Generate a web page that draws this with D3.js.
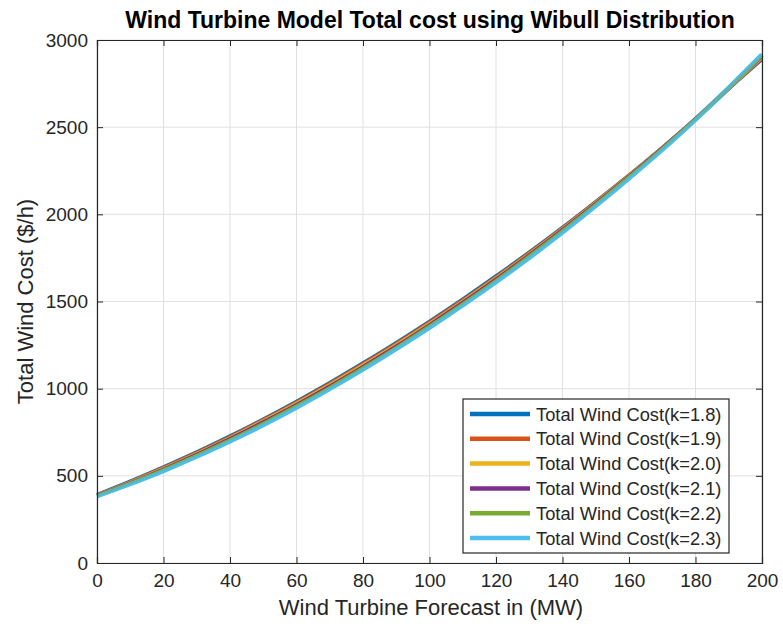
<!DOCTYPE html>
<html>
<head>
<meta charset="utf-8">
<script src="https://cdn.jsdelivr.net/npm/d3@7"></script>
<style>
  html, body { margin: 0; padding: 0; background: #fff; }
  svg { display: block; font-family: "Liberation Sans", Arial, Helvetica, sans-serif; }
</style>
</head>
<body>
<svg id="chart" width="783" height="634"></svg>
<script>
// ---- data ----
const forecastMW = [0,10,20,30,40,50,60,70,80,90,100,110,120,130,140,150,160,170,180,190,200];
const costK18 = [395,472,554,640,732,829,931,1038,1151,1268,1390,1517,1650,1787,1929,2077,2229,2387,2550,2717,2885];
const costK19 = [393,469,550,636,727,824,925,1032,1145,1262,1384,1511,1644,1782,1925,2074,2227,2386,2550,2718,2892];
const costK20 = [391,466,546,631,721,818,919,1025,1138,1255,1377,1505,1638,1776,1920,2070,2225,2385,2551,2721,2898];
const costK21 = [390,463,542,626,716,812,912,1018,1130,1247,1370,1498,1632,1771,1916,2066,2222,2384,2552,2724,2903];
const costK22 = [388,460,537,620,709,804,904,1010,1122,1239,1362,1490,1624,1764,1909,2060,2217,2380,2549,2724,2908];
const costK23 = [385,455,530,612,700,793,893,1000,1112,1230,1352,1480,1613,1752,1898,2050,2208,2372,2545,2725,2915];
const seriesNames = ["Total Wind Cost(k=1.8)","Total Wind Cost(k=1.9)","Total Wind Cost(k=2.0)",
                     "Total Wind Cost(k=2.1)","Total Wind Cost(k=2.2)","Total Wind Cost(k=2.3)"];
const seriesValues = [costK18, costK19, costK20, costK21, costK22, costK23];
const xTicks = [0,20,40,60,80,100,120,140,160,180,200];
const yTicks = [0,500,1000,1500,2000,2500,3000];
const titleText = "Wind Turbine Model Total cost using Wibull Distribution";
const xLabelText = "Wind Turbine Forecast in (MW)";
const yLabelText = "Total Wind Cost ($/h)";

// ---- styles ----
const colors = ["#0072BD","#D95319","#EDB120","#7E2F8E","#77AC30","#4DBEEE"];
const svg = d3.select("#chart");
const L = 97, R = 762, T = 40, B = 563;
const x = d3.scaleLinear().domain([0,200]).range([L,R]);
const y = d3.scaleLinear().domain([0,3000]).range([B,T]);
const textColor = "#262626";

// grid
const grid = svg.append("g");
grid.selectAll("line.gx").data(xTicks).join("line")
  .attr("x1", d=>x(d)).attr("x2", d=>x(d)).attr("y1", T).attr("y2", B)
  .attr("stroke", "#e0e0e0").attr("stroke-width", 1);
grid.selectAll("line.gy").data(yTicks).join("line")
  .attr("y1", d=>y(d)).attr("y2", d=>y(d)).attr("x1", L).attr("x2", R)
  .attr("stroke", "#e0e0e0").attr("stroke-width", 1);

// lines
const line = d3.line().x((d,i)=>x(forecastMW[i])).y(d=>y(d)).curve(d3.curveMonotoneX);
const order = [5,0,1,2,3,4];
svg.append("g").selectAll("path").data(order).join("path")
  .attr("d", i=>line(seriesValues[i]))
  .attr("fill","none")
  .attr("stroke", i=>colors[i])
  .attr("stroke-width", i=> i===5 ? 5 : 2.4)
  .attr("stroke-linejoin","round");
svg.append("path").attr("d", line(costK23)).attr("fill","none")
  .attr("stroke", colors[5]).attr("stroke-width", 3.5).attr("opacity", 0.6);

// axes
const fmt = d3.format("d");
const xAxis = d3.axisBottom(x).tickValues(xTicks).tickSize(-6).tickPadding(11).tickFormat(fmt);
const yAxis = d3.axisLeft(y).tickValues(yTicks).tickSize(-6).tickPadding(9).tickFormat(fmt);
const gx = svg.append("g").attr("transform", `translate(0,${B})`).call(xAxis);
const gy = svg.append("g").attr("transform", `translate(${L},0)`).call(yAxis);
const gxt = svg.append("g").attr("transform", `translate(0,${T})`).call(d3.axisTop(x).tickValues(xTicks).tickSize(-6).tickFormat(""));
const gyr = svg.append("g").attr("transform", `translate(${R},0)`).call(d3.axisRight(y).tickValues(yTicks).tickSize(-6).tickFormat(""));
[gx,gy,gxt,gyr].forEach(g=>{
  g.select(".domain").attr("stroke","#262626").attr("stroke-width",1.2);
  g.selectAll(".tick line").attr("stroke","#262626");
  g.selectAll(".tick text").attr("fill",textColor).style("font-size","19px")
   .style("font-family","'Liberation Sans', Arial, sans-serif");
});

// title & labels
svg.append("text").attr("x", 430).attr("y", 28).attr("text-anchor","middle")
  .style("font-size","23px").style("font-weight","bold").attr("fill","#000")
  .text(titleText);
svg.append("text").attr("x", 431).attr("y", 615).attr("text-anchor","middle")
  .style("font-size","22px").attr("fill",textColor).text(xLabelText);
svg.append("text").attr("transform", `translate(33,${(T+B)/2}) rotate(-90)`).attr("text-anchor","middle")
  .style("font-size","22px").attr("fill",textColor).text(yLabelText);

// legend
const lg = svg.append("g");
const lx = 463, ly = 399, lw = 266, lh = 154;
lg.append("rect").attr("x",lx).attr("y",ly).attr("width",lw).attr("height",lh)
  .attr("fill","#fff").attr("stroke","#262626").attr("stroke-width",1.2);
const rowY = d3.scaleLinear().domain([0,5]).range([ly+15, ly+139]);
const rows = lg.selectAll("g.row").data(seriesNames).join("g");
rows.append("line").attr("x1", lx+7).attr("x2", lx+67)
  .attr("y1",(d,i)=>rowY(i)).attr("y2",(d,i)=>rowY(i))
  .attr("stroke",(d,i)=>colors[i]).attr("stroke-width",4.5);
rows.append("text").attr("x", lx+73).attr("y",(d,i)=>rowY(i)+6.5)
  .style("font-size","18.3px").attr("fill",textColor).text(d=>d);
</script>
</body>
</html>
